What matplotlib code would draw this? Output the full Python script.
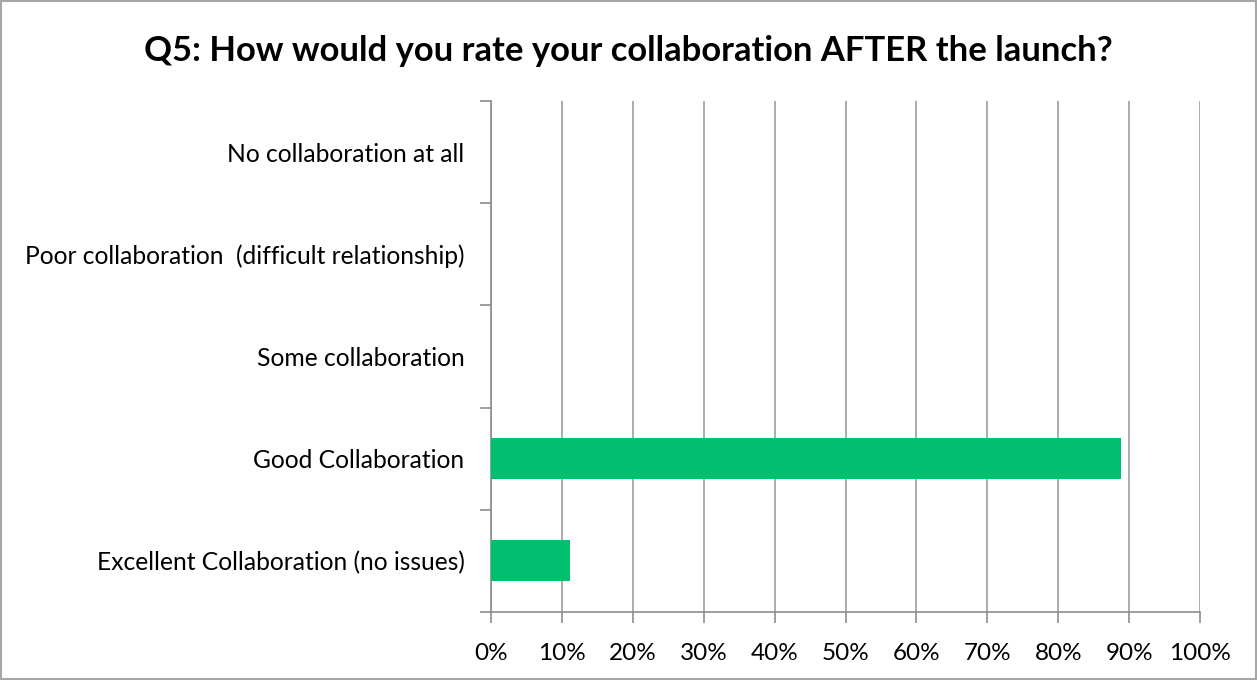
import matplotlib
matplotlib.use('Agg')
import matplotlib.pyplot as plt
from matplotlib.ticker import PercentFormatter, FixedLocator
from matplotlib.patches import Rectangle

plt.rcParams['font.family'] = ['Lato', 'DejaVu Sans']

# survey answers, top to bottom as shown
categories = [
    'No collaboration at all',
    'Poor collaboration  (difficult relationship)',
    'Some collaboration',
    'Good Collaboration',
    'Excellent Collaboration (no issues)',
]
shares = [0.0, 0.0, 0.0, 88.9, 11.1]
x_ticks = list(range(0, 101, 10))

fig = plt.figure(figsize=(12.57, 6.8), dpi=100)
ax = fig.add_axes([491 / 1257, 1 - 612 / 680, 709 / 1257, 511 / 680])

pos = list(range(len(categories)))
ax.barh(pos, shares, height=0.4, color='#00BF6F', zorder=3)
ax.set_yticks(pos)
ax.set_yticklabels(categories)
ax.set_ylim(len(categories) - 0.5, -0.5)
ax.yaxis.set_minor_locator(FixedLocator([p - 0.5 for p in range(len(categories) + 1)]))
ax.tick_params(axis='y', which='major', length=0, pad=19, labelsize=17.7)
ax.tick_params(axis='y', which='minor', length=8, width=1.2, color='#8C8C8C')

ax.set_xlim(0, 100)
ax.set_xticks(x_ticks)
ax.xaxis.set_major_formatter(PercentFormatter(decimals=0))
ax.tick_params(axis='x', length=8, width=1.2, color='#8C8C8C', labelsize=17.5, pad=14)
ax.grid(axis='x', color='#A6A6A6', linewidth=1.3, zorder=0)

for side in ['top', 'right']:
    ax.spines[side].set_visible(False)
for side in ['left', 'bottom']:
    ax.spines[side].set_color('#8C8C8C')
    ax.spines[side].set_linewidth(1.2)

fig.text(0.5, 1 - 51 / 680, 'Q5: How would you rate your collaboration AFTER the launch?',
         ha='center', va='center', fontsize=24.9, fontweight='bold')

fig.patches.append(Rectangle((0.001, 0.001), 0.998, 0.997, transform=fig.transFigure,
                             fill=False, edgecolor='#A6A6A6', linewidth=1.5))

fig.savefig('out.png', dpi=100)
